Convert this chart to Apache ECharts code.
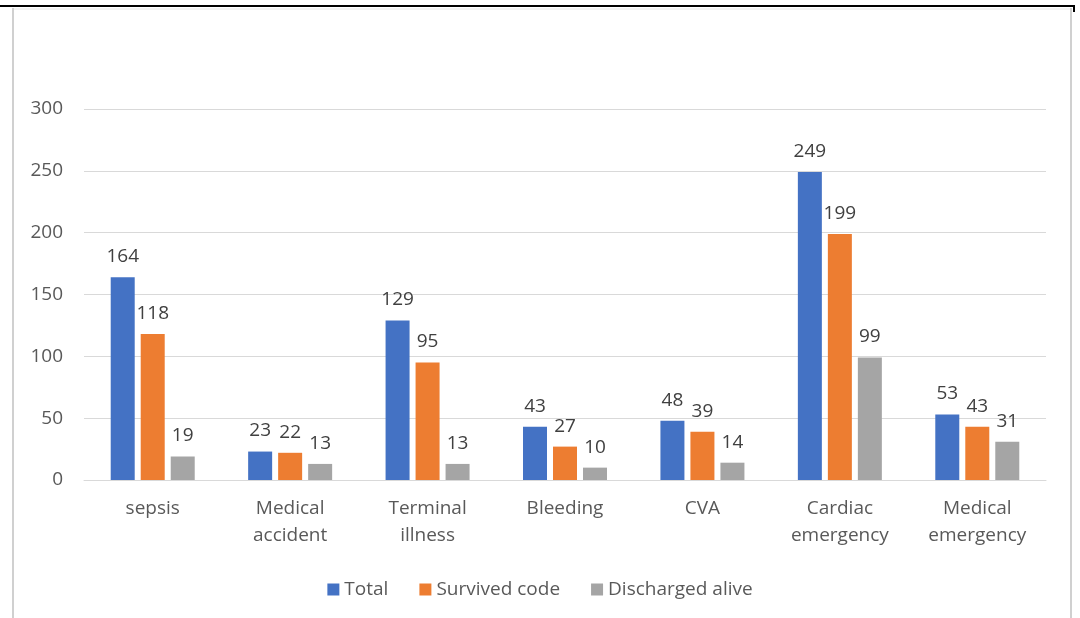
<!DOCTYPE html>
<html>
<head>
<meta charset="utf-8">
<script src="https://cdn.jsdelivr.net/npm/echarts@6/dist/echarts.min.js"></script>
<style>
  html, body { margin: 0; padding: 0; background: #fff; }
  #chart { width: 1080px; height: 618px; }
</style>
</head>
<body>
<div id="chart"></div>
<script>
const categories = ['sepsis', 'Medical\naccident', 'Terminal\nillness', 'Bleeding', 'CVA', 'Cardiac\nemergency', 'Medical\nemergency'];
const total = [164, 23, 129, 43, 48, 249, 53];
const survived = [118, 22, 95, 27, 39, 199, 43];
const discharged = [19, 13, 13, 10, 14, 99, 31];
const yTicks = [0, 300, 50];

const font = "'Open Sans', 'Noto Sans', sans-serif";

const chart = echarts.init(document.getElementById('chart'));

const mkSeries = (name, data, color) => ({
  name: name,
  type: 'bar',
  data: data,
  barWidth: 24,
  barGap: '25%',
  itemStyle: { color: color },
  label: {
    show: true,
    position: 'top',
    distance: 11,
    color: '#404040',
    fontSize: 19,
    fontFamily: font
  }
});

chart.setOption({
  animation: false,
  graphic: [
    { type: 'line', shape: { x1: 0, y1: 6, x2: 1075, y2: 6 }, style: { stroke: '#000', lineWidth: 2 } },
    { type: 'line', shape: { x1: 13, y1: 8, x2: 13, y2: 618 }, style: { stroke: '#d0d0d0', lineWidth: 2 } },
    { type: 'line', shape: { x1: 14, y1: 9, x2: 1070, y2: 9 }, style: { stroke: '#e6e6e6', lineWidth: 1 } },
    { type: 'line', shape: { x1: 1071, y1: 8, x2: 1071, y2: 618 }, style: { stroke: '#d0d0d0', lineWidth: 2 } },
    { type: 'line', shape: { x1: 1074, y1: 6, x2: 1074, y2: 12 }, style: { stroke: '#000', lineWidth: 2 } }
  ],
  grid: { left: 84, right: 34, top: 109, bottom: 138, containLabel: false },
  legend: {
    top: 575,
    left: 'center',
    itemWidth: 12,
    itemHeight: 12,
    itemGap: 31,
    icon: 'rect',
    textStyle: { color: '#595959', fontSize: 19, fontFamily: font },
    data: ['Total', 'Survived code', 'Discharged alive']
  },
  xAxis: {
    type: 'category',
    data: categories,
    axisLine: { show: true, lineStyle: { color: '#d9d9d9' } },
    axisTick: { show: false },
    axisLabel: { color: '#595959', fontSize: 19, fontFamily: font, lineHeight: 27, margin: 15 }
  },
  yAxis: {
    type: 'value',
    min: yTicks[0],
    max: yTicks[1],
    interval: yTicks[2],
    axisLine: { show: false },
    axisTick: { show: false },
    splitLine: { lineStyle: { color: '#d9d9d9' } },
    axisLabel: { color: '#595959', fontSize: 19, fontFamily: font, margin: 21 }
  },
  series: [
    mkSeries('Total', total, '#4472c4'),
    mkSeries('Survived code', survived, '#ed7d31'),
    mkSeries('Discharged alive', discharged, '#a5a5a5')
  ]
});
</script>
</body>
</html>
